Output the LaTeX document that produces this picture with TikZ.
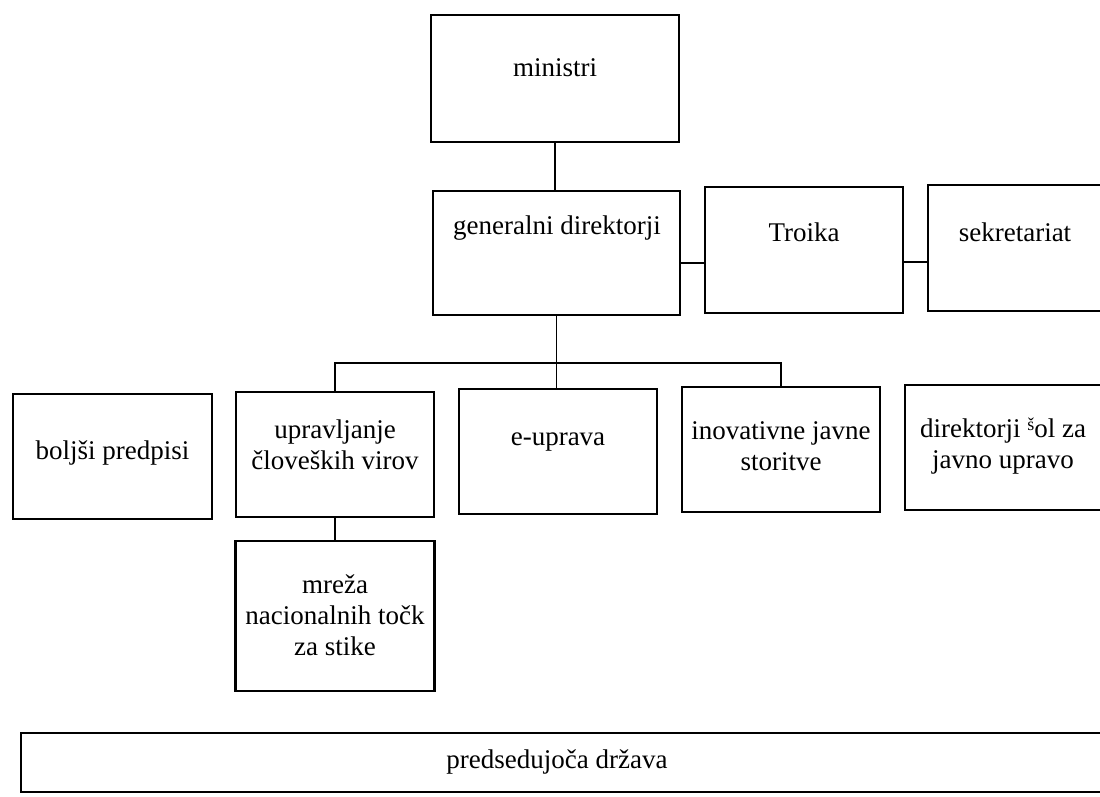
\documentclass[tikz,border=0pt]{standalone}
\usepackage{fontspec}
\setmainfont{Liberation Serif}
\begin{document}
\begin{tikzpicture}[x=1pt,y=-1pt,
  box/.style={draw=black,line width=2.4pt,rectangle,inner sep=0pt},
  conn/.style={draw=black,line width=1.5pt},
  txt/.style={inner sep=0pt,align=center,font=\fontsize{27}{31}\selectfont,text=black}]
\useasboundingbox (0,0) rectangle (1100,796);
\fill[white] (0,0) rectangle (1100,796);
\clip (0,0) rectangle (1100,796);
% boxes
\node[box,minimum width=248pt,minimum height=127pt] (min) at (555,78.5) {};
\node[box,minimum width=247pt,minimum height=124pt] (gen) at (556.5,253) {};
\node[box,minimum width=198pt,minimum height=126pt] (tro) at (804,250) {};
\node[box,minimum width=176pt,minimum height=126pt] (sek) at (1016,248) {};
\node[box,minimum width=199pt,minimum height=125pt] (bol) at (112.5,456.5) {};
\node[box,minimum width=198pt,minimum height=125pt] (upr) at (335,454.5) {};
\node[box,minimum width=198pt,minimum height=125pt] (eup) at (558,451.5) {};
\node[box,minimum width=198pt,minimum height=125pt] (ino) at (781,449.5) {};
\node[box,minimum width=199pt,minimum height=125pt] (dir) at (1004.5,447.5) {};
\node[box,minimum width=199pt,minimum height=150pt] (mre) at (335,616) {};
\node[box,minimum width=1089pt,minimum height=59pt] (pre) at (565.5,762.5) {};
% texts
\node[txt] (tmin) at (555,68) {ministri};
\node[txt] (tgen) at (557,228) {generalni direktorji};
\node[txt] (ttro) at (804,232) {Troika};
\node[txt] (tsek) at (1015,232) {sekretariat};
\node[txt] (tbol) at (112.5,453) {boljši predpisi};
\node[txt] (tupr) at (335,445) {upravljanje\\človeških virov};
\node[txt] (teup) at (558,442) {e-uprava};
\node[txt] (tino) at (781,446) {inovativne javne\\storitve};
\node[txt] (tdir) at (1003,446) {direktorji \raisebox{0.55ex}{\fontsize{18}{20}\selectfont š}ol za\\javno upravo};
\node[txt] (tmre) at (335,615) {mreža\\nacionalnih točk\\za stike};
\node[txt] (tpre) at (557,762) {predsedujoča država};
% connectors
\coordinate (j1) at (692,263);
\coordinate (j2) at (916,262);
\coordinate (bar) at (558,363);
\draw[conn] (min.south) -- (min.south |- gen.north);
\draw[conn] (gen.east |- j1) -- (tro.west |- j1);
\draw[conn] (tro.east |- j2) -- (sek.west |- j2);
\draw[conn] (gen.south) -- (gen.south |- eup.north);
\draw[conn] (upr.north) -- (upr.north |- bar) -- (ino.north |- bar) -- (ino.north);
\draw[conn] (upr.south) -- (mre.north);
\end{tikzpicture}
\end{document}
